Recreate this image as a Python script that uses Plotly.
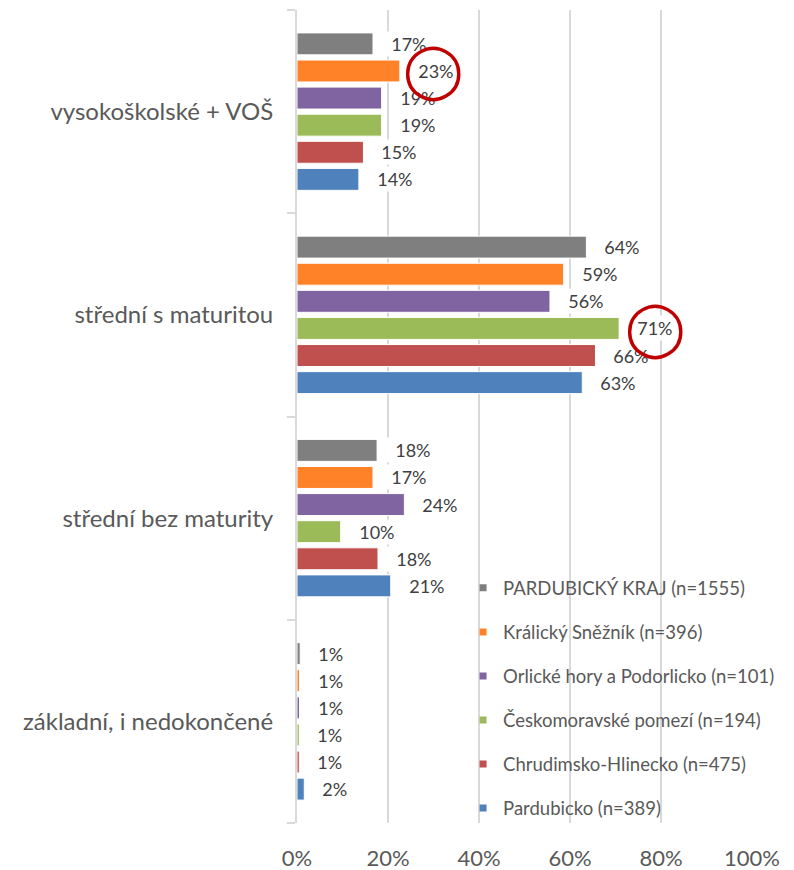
import plotly.graph_objects as go

# categories listed bottom -> top (plotly draws the first category at the bottom)
categories = ["základní, i nedokončené", "střední bez maturity",
              "střední s maturitou", "vysokoškolské + VOŠ"]

# series listed bottom -> top within each group
series_names = ["Pardubicko (n=389)", "Chrudimsko-Hlinecko (n=475)",
                "Českomoravské pomezí (n=194)", "Orlické hory a Podorlicko (n=101)",
                "Králický Sněžník (n=396)", "PARDUBICKÝ KRAJ (n=1555)"]
series_colors = ["#4F81BD", "#C0504D", "#9BBB59", "#8064A2", "#FF8229", "#7F7F7F"]

pardubicko = [1.6, 20.6, 62.7, 13.6]
chrudimsko = [0.51, 17.8, 65.6, 14.6]
ceskomoravske = [0.51, 9.6, 70.8, 18.6]
orlicke = [0.55, 23.6, 55.6, 18.6]
kralicky = [0.55, 16.7, 58.6, 22.6]
kraj = [0.7, 17.6, 63.6, 16.7]
series_values = [pardubicko, chrudimsko, ceskomoravske, orlicke, kralicky, kraj]

x_ticks = [0, 20, 40, 60, 80, 100]

# the page adds an 8px body margin, so the figure is 8px smaller than the window
W, H = 786, 862
M = dict(l=289, r=42, t=2, b=47)
BARGAP = 0.2
FONT = "Lato, 'Open Sans', sans-serif"

fig = go.Figure()
for name, color, vals in zip(series_names, series_colors, series_values):
    fig.add_trace(go.Bar(
        y=categories, x=vals, orientation="h", showlegend=False,
        marker=dict(color=color, line=dict(color="white", width=1)),
        hoverinfo="skip",
    ))

# legend entries top -> bottom with small square markers, like the Excel legend
for name, color in zip(series_names[::-1], series_colors[::-1]):
    fig.add_trace(go.Scatter(
        x=[None], y=[None], mode="markers", name=name, legendgroup=name,
        marker=dict(symbol="square", size=7, color=color),
    ))

# data labels with white background (they hide gridlines behind them)
plot_h = H - M["t"] - M["b"]
slot = plot_h / len(categories) * (1 - BARGAP) / len(series_values)
n = len(series_values)
for i, vals in enumerate(series_values):
    for cat, v in zip(categories, vals):
        fig.add_annotation(
            x=v, y=cat, xref="x", yref="y", showarrow=False,
            text="\u00a0\u00a0" + f"{v:.0f}%", xanchor="left", xshift=7,
            yshift=(i - (n - 1) / 2) * slot,
            bgcolor="white", borderpad=1,
            font=dict(family=FONT, size=18, color="#404040"),
        )

# red highlight circles, drawn as annotations so they sit on top of the labels
for cx, cy in [(29.9, 0.926), (78.7, 0.609)]:
    fig.add_annotation(
        x=cx, y=cy, xref="x", yref="paper", showarrow=False,
        text="\u25EF", xanchor="center", yanchor="middle",
        font=dict(family="DejaVu Sans", size=54, color="#C00000"),
    )

fig.update_layout(
    width=W, height=H, margin=M,
    barmode="group", bargap=BARGAP, bargroupgap=0.19,
    paper_bgcolor="white", plot_bgcolor="white",
    font=dict(family=FONT, color="#595959"),
    legend=dict(
        x=0.365, y=0.312, xanchor="left", yanchor="top",
        bgcolor="rgba(0,0,0,0)", tracegroupgap=17,
        font=dict(family=FONT, size=18.5, color="#595959"),
    ),
    xaxis=dict(
        range=[0, 100], tickvals=x_ticks, ticktext=[f"{t}%" for t in x_ticks],
        showgrid=True, gridcolor="#D9D9D9", gridwidth=2, zeroline=False,
        showline=False, ticks="", ticklabelstandoff=20, automargin=False,
        tickfont=dict(family=FONT, size=22, color="#595959"),
    ),
    yaxis=dict(
        showline=True, linecolor="#D9D9D9", linewidth=2,
        ticks="outside", tickson="boundaries", ticklen=8, tickcolor="#D9D9D9", tickwidth=2,
        ticklabelstandoff=17, showgrid=False, automargin=False,
        tickfont=dict(family=FONT, size=24, color="#595959"),
    ),
)

fig.write_html("out.html")
